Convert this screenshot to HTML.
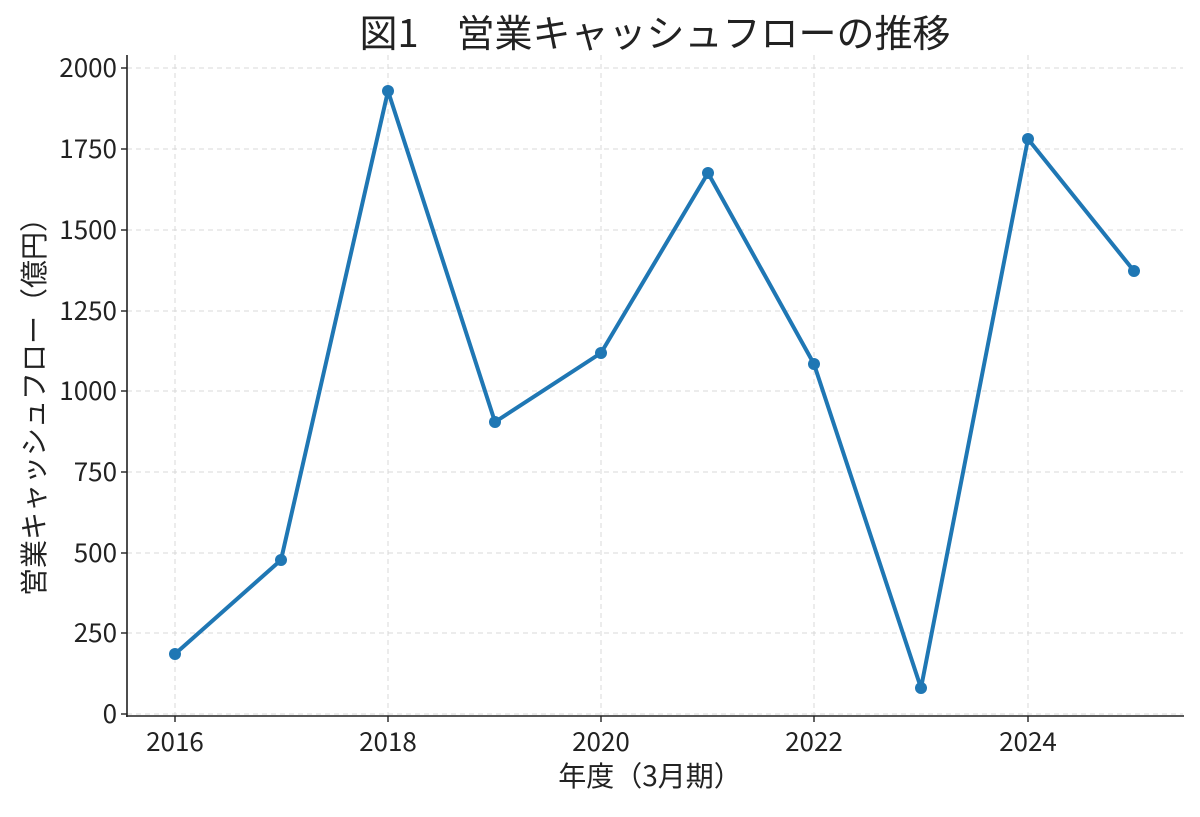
<!DOCTYPE html>
<html><head><meta charset="utf-8"><style>
html,body{margin:0;padding:0;background:#fff;}
svg text{font-family:"Noto Sans CJK JP","Liberation Sans",sans-serif;fill:#222;}
</style></head><body>
<svg width="1200" height="812" viewBox="0 0 1200 812" xmlns="http://www.w3.org/2000/svg">
<g stroke="#d9d9d9" stroke-width="1" stroke-dasharray="5,4">
<line x1="127" x2="1183" y1="68" y2="68"/><line x1="127" x2="1183" y1="149" y2="149"/>
<line x1="127" x2="1183" y1="230" y2="230"/><line x1="127" x2="1183" y1="311" y2="311"/>
<line x1="127" x2="1183" y1="391" y2="391"/><line x1="127" x2="1183" y1="472" y2="472"/>
<line x1="127" x2="1183" y1="553" y2="553"/><line x1="127" x2="1183" y1="633" y2="633"/>
<line x1="127" x2="1183" y1="714" y2="714"/>
<line x1="175" x2="175" y1="55" y2="716"/><line x1="388" x2="388" y1="55" y2="716"/>
<line x1="601" x2="601" y1="55" y2="716"/><line x1="814" x2="814" y1="55" y2="716"/>
<line x1="1028" x2="1028" y1="55" y2="716"/>
</g>
<g stroke="#222" stroke-width="1.6">
<line x1="127" x2="127" y1="55" y2="717"/><line x1="126" x2="1184" y1="716" y2="716"/>
</g>
<g stroke="#222" stroke-width="1.4">
<line x1="121" x2="127" y1="68" y2="68"/><line x1="121" x2="127" y1="149" y2="149"/>
<line x1="121" x2="127" y1="230" y2="230"/><line x1="121" x2="127" y1="311" y2="311"/>
<line x1="121" x2="127" y1="391" y2="391"/><line x1="121" x2="127" y1="472" y2="472"/>
<line x1="121" x2="127" y1="553" y2="553"/><line x1="121" x2="127" y1="633" y2="633"/>
<line x1="121" x2="127" y1="714" y2="714"/>
<line x1="175" x2="175" y1="716" y2="722"/><line x1="388" x2="388" y1="716" y2="722"/>
<line x1="601" x2="601" y1="716" y2="722"/><line x1="814" x2="814" y1="716" y2="722"/>
<line x1="1028" x2="1028" y1="716" y2="722"/>
</g>
<g font-size="26" text-anchor="end">
<text x="117" y="77">2000</text><text x="117" y="158">1750</text><text x="117" y="239">1500</text>
<text x="117" y="320">1250</text><text x="117" y="400">1000</text><text x="117" y="481">750</text>
<text x="117" y="562">500</text><text x="117" y="642">250</text><text x="117" y="723">0</text>
</g>
<g font-size="26" text-anchor="middle">
<text x="175" y="751">2016</text><text x="388" y="751">2018</text><text x="601" y="751">2020</text>
<text x="814" y="751">2022</text><text x="1028" y="751">2024</text>
<text x="650" y="786" font-size="28">年度（3月期）</text>
<text transform="translate(44,400) rotate(-90)" font-size="28">営業キャッシュフロー（億円）</text>
<text x="655" y="47" font-size="38">図1　営業キャッシュフローの推移</text>
</g>
<polyline fill="none" stroke="#1f77b4" stroke-width="4" stroke-linejoin="round" points="175,654 281,560 388,91 495,422 601,353 708,173 814,364 921,688 1028,139 1134,271"/>
<g fill="#1f77b4">
<circle cx="175" cy="654" r="6"/><circle cx="281" cy="560" r="6"/><circle cx="388" cy="91" r="6"/>
<circle cx="495" cy="422" r="6"/><circle cx="601" cy="353" r="6"/><circle cx="708" cy="173" r="6"/>
<circle cx="814" cy="364" r="6"/><circle cx="921" cy="688" r="6"/><circle cx="1028" cy="139" r="6"/>
<circle cx="1134" cy="271" r="6"/>
</g>
</svg>
</body></html>
